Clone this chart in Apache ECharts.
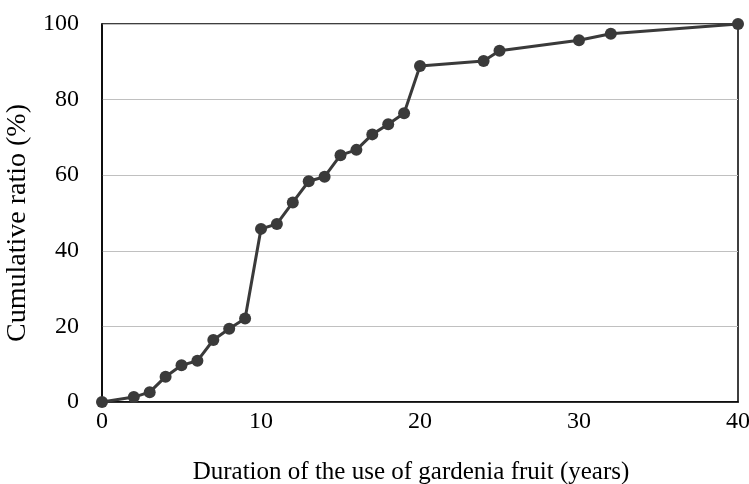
<!DOCTYPE html>
<html>
<head>
<meta charset="utf-8">
<script src="https://cdn.jsdelivr.net/npm/echarts@6/dist/echarts.min.js"></script>
<style>html,body{margin:0;padding:0;background:#fff}#c{width:749px;height:484px}</style>
</head>
<body>
<div id="c"></div>
<script>
var years = [0, 2, 3, 4, 5, 6, 7, 8, 9, 10, 11, 12, 13, 14, 15, 16, 17, 18, 19, 20, 24, 25, 30, 32, 40];
var cumulative = [0, 1.3, 2.6, 6.7, 9.7, 10.9, 16.4, 19.4, 22.1, 45.8, 47.1, 52.8, 58.4, 59.6, 65.3, 66.7, 70.8, 73.5, 76.4, 88.9, 90.2, 92.9, 95.7, 97.4, 100];
var xTitle = 'Duration of the use of gardenia fruit (years)';
var yTitle = 'Cumulative ratio (%)';

var font = '"Liberation Serif", "Times New Roman", serif';
var chart = echarts.init(document.getElementById('c'));
chart.setOption({
  backgroundColor: '#fff',
  animation: false,
  grid: {left: 102, right: 11, top: 24, bottom: 82, containLabel: false, outerBoundsMode: 'none',
         show: true, borderColor: '#000', borderWidth: 1.5, backgroundColor: 'transparent'},
  xAxis: {
    type: 'value', min: 0, max: 40, interval: 10,
    name: xTitle, nameLocation: 'middle', nameGap: 58,
    nameTextStyle: {fontFamily: font, fontSize: 25, color: '#000', padding: [0, 18, 0, 0]},
    axisLine: {show: true, lineStyle: {color: '#000', width: 1.5}},
    axisTick: {show: false},
    splitLine: {show: false},
    axisLabel: {fontFamily: font, fontSize: 24, color: '#000', margin: 8}
  },
  yAxis: {
    type: 'value', min: 0, max: 100, interval: 20,
    name: yTitle, nameLocation: 'middle', nameGap: 65, nameRotate: 90,
    nameTextStyle: {fontFamily: font, fontSize: 28, color: '#000', padding: [0, 20, 0, 0]},
    axisLine: {show: true, lineStyle: {color: '#000', width: 1.5}},
    axisTick: {show: false},
    splitLine: {show: true, lineStyle: {color: '#c0c0c0', width: 1.2}},
    axisLabel: {fontFamily: font, fontSize: 24, color: '#000', margin: 23}
  },
  series: [{
    type: 'line',
    data: years.map(function (y, i) { return [y, cumulative[i]]; }),
    symbol: 'circle', symbolSize: 12,
    lineStyle: {color: '#3a3a3a', width: 3},
    itemStyle: {color: '#3a3a3a'},
    clip: false
  }]
});
</script>
</body>
</html>
